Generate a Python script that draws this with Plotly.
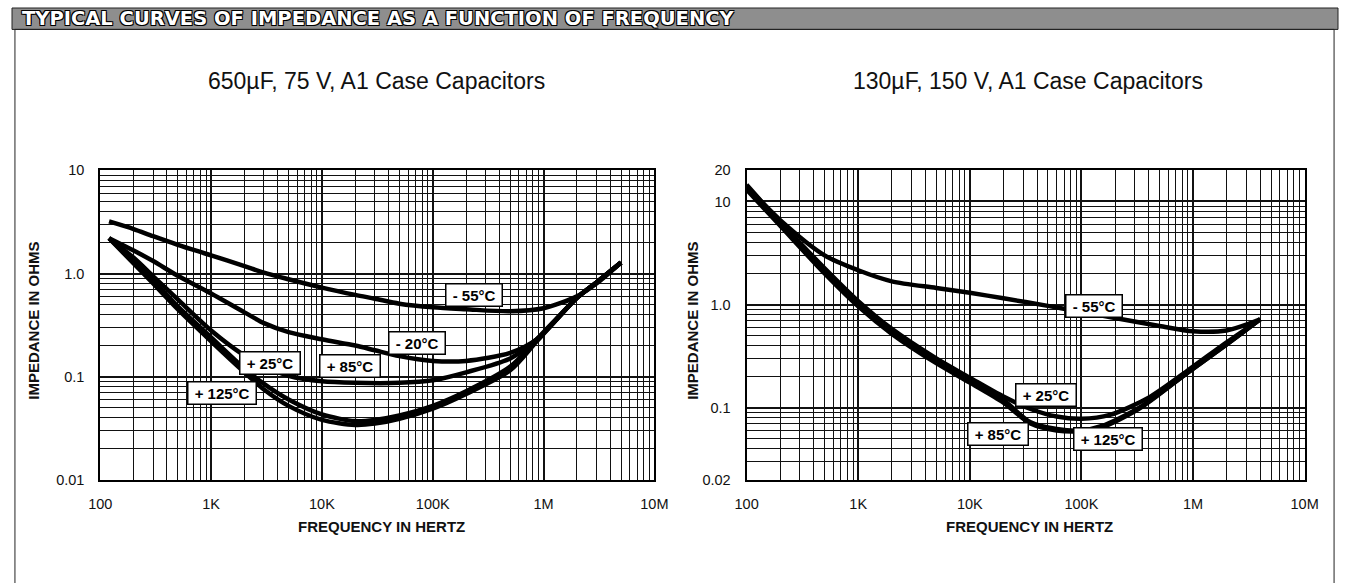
import plotly.graph_objects as go

W, H = 1352, 583

# ---------------- data ----------------
freq_tick_vals = [1e2, 1e3, 1e4, 1e5, 1e6, 1e7]
freq_tick_text = ["100", "1K", "10K", "100K", "1M", "10M"]

left_y_tick_vals = [0.01, 0.1, 1, 10]
left_y_tick_text = ["0.01", "0.1", "1.0", "10"]
right_y_tick_vals = [0.02, 0.1, 1, 10, 20]
right_y_tick_text = ["0.02", "0.1", "1.0", "10", "20"]

# 650uF, 75 V (left chart): frequency (Hz) and impedance (ohms)
left_m55_f = [120, 200, 300, 500, 1e3, 2e3, 3e3, 5e3, 1e4, 2e4, 3e4, 5e4, 1e5, 2e5, 5e5, 1e6, 2e6, 3e6, 5e6]
left_m55_z = [3.2, 2.7, 2.3, 1.9, 1.5, 1.18, 1.02, 0.88, 0.73, 0.62, 0.57, 0.51, 0.47, 0.45, 0.43, 0.46, 0.6, 0.8, 1.28]

left_m20_f = [120, 200, 300, 500, 1e3, 2e3, 3e3, 5e3, 1e4, 2e4, 3e4, 5e4, 1e5, 2e5, 5e5, 8.7e5, 2e6, 3e6, 5e6]
left_m20_z = [2.2, 1.67, 1.32, 0.95, 0.64, 0.42, 0.33, 0.27, 0.23, 0.2, 0.18, 0.158, 0.142, 0.142, 0.17, 0.23, 0.58, 0.82, 1.28]

left_p85_f = [120, 200, 300, 500, 1e3, 2e3, 3e3, 5e3, 1e4, 2e4, 5e4, 1e5, 2e5, 5e5, 8.7e5, 2e6, 3e6, 5e6]
left_p85_z = [2.2, 1.42, 0.94, 0.56, 0.28, 0.16, 0.126, 0.102, 0.09, 0.087, 0.087, 0.092, 0.11, 0.15, 0.23, 0.58, 0.82, 1.28]

left_p25_f = [120, 200, 300, 500, 1e3, 2e3, 3e3, 5e3, 1e4, 2e4, 3e4, 5e4, 1e5, 2e5, 5e5, 8.7e5, 2e6, 3e6, 5e6]
left_p25_z = [2.2, 1.3, 0.85, 0.48, 0.24, 0.12, 0.085, 0.06, 0.043, 0.037, 0.038, 0.042, 0.052, 0.072, 0.125, 0.23, 0.58, 0.82, 1.28]

left_p125_f = [120, 200, 300, 500, 1e3, 2e3, 3e3, 5e3, 1e4, 2e4, 3e4, 5e4, 1e5, 2e5, 5e5, 8.7e5, 2e6, 3e6, 5e6]
left_p125_z = [2.2, 1.25, 0.8, 0.45, 0.22, 0.11, 0.075, 0.052, 0.038, 0.034, 0.035, 0.039, 0.049, 0.068, 0.115, 0.22, 0.58, 0.82, 1.28]

# 130uF, 150 V (right chart)
right_m55_f = [100, 200, 500, 1e3, 2e3, 5e3, 1e4, 2e4, 5e4, 1e5, 2e5, 5e5, 1e6, 2e6, 4e6]
right_m55_z = [14, 6.6, 3.0, 2.15, 1.68, 1.45, 1.3, 1.15, 0.97, 0.85, 0.74, 0.62, 0.55, 0.56, 0.72]

right_p25_f = [100, 200, 500, 1e3, 2e3, 5e3, 1e4, 2e4, 3.5e4, 6e4, 1e5, 1.8e5, 4e5, 9e5, 2e6, 4e6]
right_p25_z = [14.5, 6.3, 2.25, 1.08, 0.58, 0.3, 0.195, 0.128, 0.097, 0.082, 0.078, 0.085, 0.125, 0.23, 0.43, 0.72]

right_p85_f = [100, 200, 500, 1e3, 2e3, 5e3, 1e4, 2e4, 3.5e4, 6e4, 1e5, 1.5e5, 3.3e5, 9e5, 2e6, 4e6]
right_p85_z = [13.5, 6.0, 2.1, 1.0, 0.54, 0.28, 0.18, 0.118, 0.072, 0.062, 0.06, 0.066, 0.1, 0.22, 0.41, 0.72]

right_p125_f = [100, 200, 500, 1e3, 2e3, 5e3, 1e4, 2e4, 3.5e4, 6e4, 1e5, 1.5e5, 3.3e5, 9e5, 2e6, 4e6]
right_p125_z = [13, 5.8, 2.0, 0.96, 0.52, 0.27, 0.175, 0.112, 0.07, 0.06, 0.059, 0.064, 0.098, 0.22, 0.41, 0.72]

# curve labels: text, log10(freq), log10(ohms)
left_labels = [("- 55°C", 5.37, -0.205), ("- 20°C", 4.86, -0.67), ("+ 25°C", 3.53, -0.866),
               ("+ 85°C", 4.25, -0.90), ("+ 125°C", 3.10, -1.16)]
right_labels = [("- 55°C", 5.11, -0.01), ("+ 25°C", 4.68, -0.877), ("+ 85°C", 4.25, -1.26),
                ("+ 125°C", 5.24, -1.30)]

# ---------------- figure ----------------
def px_x(p):
    return p / W

def px_y(p):
    return (H - p) / H

fig = go.Figure()
LINE = dict(color="#000", width=4.5, shape="spline", smoothing=0.8)

for f, z, name in [(left_m55_f, left_m55_z, "-55°C"), (left_m20_f, left_m20_z, "-20°C"),
                   (left_p85_f, left_p85_z, "+85°C"), (left_p25_f, left_p25_z, "+25°C"),
                   (left_p125_f, left_p125_z, "+125°C")]:
    fig.add_trace(go.Scatter(x=f, y=z, mode="lines", name=name, line=LINE,
                             xaxis="x", yaxis="y", showlegend=False))
for f, z, name in [(right_m55_f, right_m55_z, "-55°C"), (right_p25_f, right_p25_z, "+25°C"),
                   (right_p85_f, right_p85_z, "+85°C"), (right_p125_f, right_p125_z, "+125°C")]:
    fig.add_trace(go.Scatter(x=f, y=z, mode="lines", name=name, line=LINE,
                             xaxis="x2", yaxis="y2", showlegend=False))

minor_x = [k * 10 ** d for d in range(2, 7) for k in range(2, 10)]
minor_y_left = [k * 10 ** d for d in range(-2, 1) for k in range(2, 10)]
minor_y_right = [k * 10 ** d for d in range(-2, 2) for k in range(2, 10)
                 if 0.02 < k * 10 ** d < 20 and k * 10 ** d != 10]

TICKFONT = dict(family="Liberation Sans, Arial, sans-serif", size=14.5, color="#111")
GRID = "#111"

def xaxis(domain, anchor):
    return dict(type="log", range=[2, 7], domain=domain, anchor=anchor,
                tickmode="array", tickvals=freq_tick_vals, ticktext=freq_tick_text,
                showgrid=True, gridcolor=GRID, gridwidth=1.6,
                minor=dict(tickmode="array", tickvals=minor_x, showgrid=True,
                           gridcolor=GRID, gridwidth=1.2, ticks=""),
                showline=True, linecolor="#000", linewidth=2, mirror=True,
                ticks="", tickfont=TICKFONT, ticklabelstandoff=10, zeroline=False)

def yaxis(domain, anchor, rng, vals, text, minor_vals):
    return dict(type="log", range=rng, domain=domain, anchor=anchor,
                tickmode="array", tickvals=vals, ticktext=text,
                showgrid=True, gridcolor=GRID, gridwidth=1.6,
                minor=dict(tickmode="array", tickvals=minor_vals, showgrid=True,
                           gridcolor=GRID, gridwidth=1.2, ticks=""),
                showline=True, linecolor="#000", linewidth=2, mirror=True,
                ticks="", tickfont=TICKFONT, ticklabelstandoff=11, zeroline=False)

ydom = [px_y(485), px_y(167)]
fig.update_layout(
    width=W, height=H, margin=dict(l=0, r=0, t=0, b=0),
    paper_bgcolor="#fff", plot_bgcolor="#fff",
    xaxis=xaxis([px_x(90), px_x(655)], "y"),
    yaxis=yaxis(ydom, "x", [-2, 1], left_y_tick_vals, left_y_tick_text, minor_y_left),
    xaxis2=xaxis([px_x(749), px_x(1318)], "y2"),
    yaxis2=yaxis(ydom, "x2", [-1.69897, 1.30103], right_y_tick_vals, right_y_tick_text, minor_y_right),
)

fig.update_layout(shapes=[
    dict(type="rect", xref="paper", yref="paper", x0=0, x1=1, y0=px_y(22), y1=px_y(0),
         fillcolor="#8e8e8e", line=dict(color="#222", width=1), layer="below"),
    dict(type="rect", xref="paper", yref="paper", x0=px_x(3), x1=px_x(1348), y0=-0.02, y1=px_y(22),
         fillcolor="rgba(0,0,0,0)", line=dict(color="#222", width=1), layer="below"),
])

ann = []
ann.append(dict(text="TYPICAL CURVES OF IMPEDANCE AS A FUNCTION OF FREQUENCY",
                xref="paper", yref="paper", x=px_x(8), y=px_y(11), xanchor="left", yanchor="middle",
                showarrow=False,
                font=dict(family="DejaVu Sans, sans-serif", size=19.5, color="#fff", weight=900,
                          shadow="-1px -1px 0 #000, 1px -1px 0 #000, -1px 1px 0 #000, 1px 1px 0 #000")))
SUBFONT = dict(family="Liberation Sans, Arial, sans-serif", size=23, color="#111")
ann.append(dict(text="650µF, 75 V, A1 Case Capacitors", xref="paper", yref="paper",
                x=px_x(372), y=px_y(75), xanchor="center", yanchor="middle", showarrow=False, font=SUBFONT))
ann.append(dict(text="130µF, 150 V, A1 Case Capacitors", xref="paper", yref="paper",
                x=px_x(1036), y=px_y(75), xanchor="center", yanchor="middle", showarrow=False, font=SUBFONT))
AXFONT = dict(family="Liberation Sans, Arial, sans-serif", size=15, color="#111", weight="bold")
for cx in (377, 1037):
    ann.append(dict(text="FREQUENCY IN HERTZ", xref="paper", yref="paper", x=px_x(cx), y=px_y(533),
                    xanchor="center", yanchor="middle", showarrow=False, font=AXFONT))
for cx in (22, 693):
    ann.append(dict(text="IMPEDANCE IN OHMS", xref="paper", yref="paper", x=px_x(cx), y=px_y(322),
                    xanchor="center", yanchor="middle", showarrow=False, textangle=-90, font=AXFONT))

LBLFONT = dict(family="Liberation Sans, Arial, sans-serif", size=15, color="#000", weight="bold")
NB = "\u00a0"
for text, lx, ly in left_labels:
    ann.append(dict(text=NB + text + NB, x=lx, y=ly, xref="x", yref="y", showarrow=False,
                    xanchor="center", yanchor="middle",
                    bgcolor="#fff", bordercolor="#000", borderwidth=1.5, borderpad=2, font=LBLFONT))
for text, lx, ly in right_labels:
    ann.append(dict(text=NB + text + NB, x=lx, y=ly, xref="x2", yref="y2", showarrow=False,
                    xanchor="center", yanchor="middle",
                    bgcolor="#fff", bordercolor="#000", borderwidth=1.5, borderpad=2, font=LBLFONT))
fig.update_layout(annotations=ann)

fig.write_html("out.html")
